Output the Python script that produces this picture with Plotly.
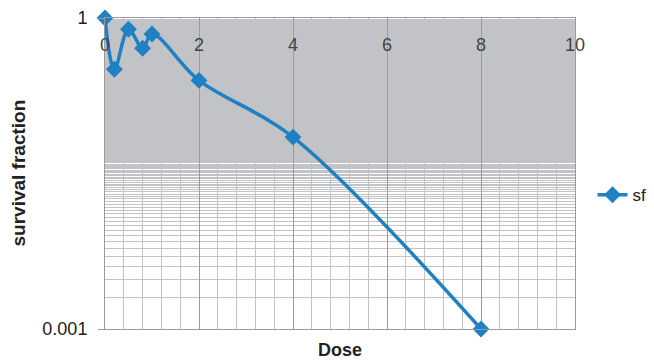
import plotly.graph_objects as go

# Survival fraction measured at each dose
dose = [0, 0.2, 0.5, 0.8, 1, 2, 4, 8]
sf = [1.0, 0.32, 0.78, 0.51, 0.70, 0.25, 0.071, 0.001]

x_ticks = [0, 2, 4, 6, 8, 10]
y_ticks = [0.001, 1]
y_tick_text = ["0.001", "1"]
# minor horizontal grid at every multiple of 0.001 up to 1
y_minor = [k / 1000 for k in range(1, 1001)]

BLUE = "#1f80c4"
MINOR = "#c2c3c6"
MAJOR = "#9a9b9e"
FONT = "Liberation Sans, Arial, sans-serif"

fig = go.Figure()
fig.add_trace(go.Scatter(
    x=dose, y=sf, name="sf", mode="lines+markers",
    line=dict(color=BLUE, width=3.5, shape="spline", smoothing=1),
    marker=dict(symbol="diamond", size=13, color=BLUE),
    cliponaxis=False,
))

fig.update_layout(
    width=654, height=361,
    margin=dict(l=105, r=79, t=18, b=32, autoexpand=False),
    paper_bgcolor="white", plot_bgcolor="white",
    font=dict(family=FONT, size=18, color="#222222"),
    showlegend=True,
    legend=dict(xref="container", x=0.906, xanchor="left",
                y=0.43, yanchor="middle",
                font=dict(size=17), bgcolor="rgba(0,0,0,0)"),
    xaxis=dict(
        range=[0, 10], side="top",
        tickmode="array", tickvals=x_ticks,
        ticklabelposition="inside", ticklabeloverflow="allow",
        ticklabelstandoff=21, ticks="",
        showgrid=True, gridcolor=MAJOR, gridwidth=1,
        minor=dict(dtick=0.4, tick0=0, showgrid=True, gridcolor=MINOR,
                   gridwidth=1, ticks=""),
        showline=True, linecolor=MAJOR, linewidth=1, mirror=True,
        zeroline=False,
    ),
    yaxis=dict(
        type="log", range=[-3, 0],
        tickmode="array", tickvals=y_ticks, ticktext=y_tick_text,
        ticks="outside", ticklen=6, tickcolor=MAJOR,
        ticklabelstandoff=7,
        showgrid=True, gridcolor=MAJOR, gridwidth=1,
        minor=dict(tickmode="array", tickvals=y_minor, showgrid=True,
                   gridcolor=MINOR, gridwidth=1, ticks=""),
        showline=True, linecolor=MAJOR, linewidth=1, mirror=True,
        zeroline=False,
    ),
    annotations=[
        dict(text="<b>Dose</b>", xref="paper", yref="paper",
             x=0.5, y=0, yshift=-21, xanchor="center", yanchor="middle",
             showarrow=False, font=dict(size=18, color="#222222")),
        dict(text="<b>survival fraction</b>", xref="paper", yref="paper",
             x=0, xshift=-87, y=0.5, xanchor="center", yanchor="middle",
             textangle=-90, showarrow=False,
             font=dict(size=19, color="#222222")),
    ],
)

fig.write_html("out.html")
